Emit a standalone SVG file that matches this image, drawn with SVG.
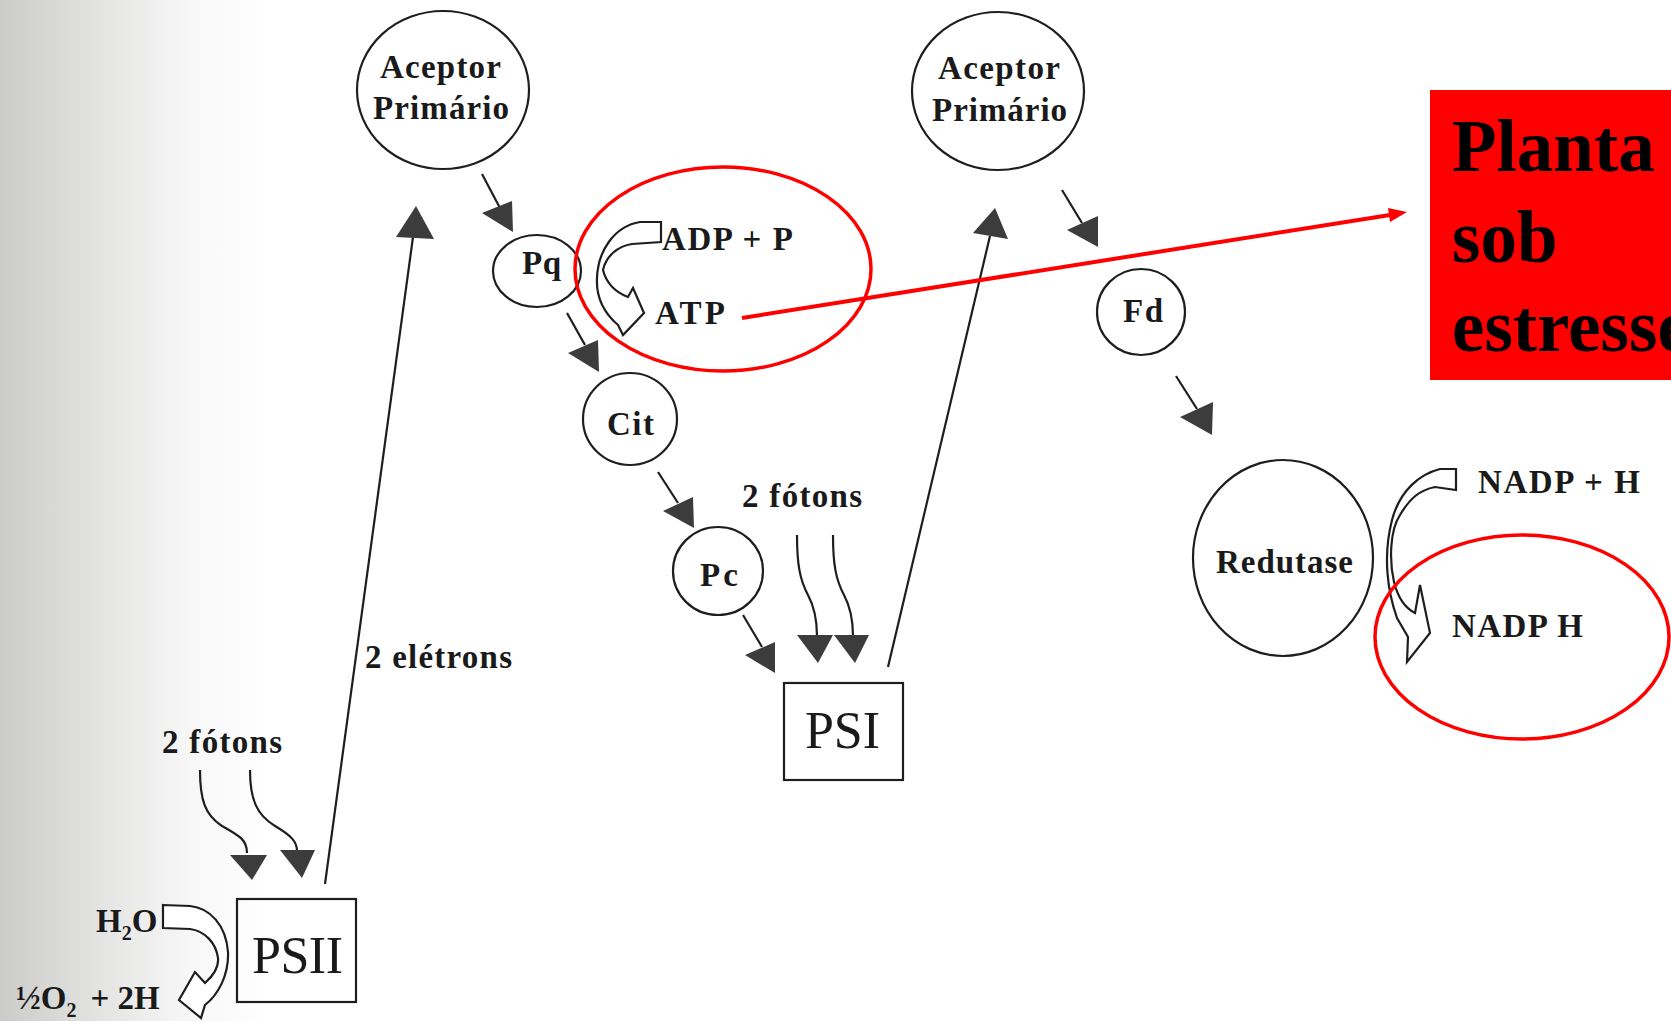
<svg xmlns="http://www.w3.org/2000/svg" width="1671" height="1021" viewBox="0 0 1671 1021">
<defs>
<linearGradient id="shade" x1="0" y1="0" x2="1" y2="0">
<stop offset="0" stop-color="#cbccc9"/>
<stop offset="0.3" stop-color="#dfe0de"/>
<stop offset="0.7" stop-color="#f7f7f7"/>
<stop offset="1" stop-color="#ffffff"/>
</linearGradient>
<style>
.node{fill:none;stroke:#1e1e1e;stroke-width:2.2}
.ln{fill:none;stroke:#1e1e1e;stroke-width:2.2}
.head{fill:#3c3c3c;stroke:none}
.hollow{fill:#ffffff;stroke:#1e1e1e;stroke-width:2.2;stroke-linejoin:miter}
.lbl{font-family:"Liberation Serif","Times New Roman",serif;font-weight:bold;font-size:33px;fill:#1a1a1a}
.ps{font-family:"Liberation Serif","Times New Roman",serif;font-size:52px;fill:#1a1a1a}
.red{fill:none;stroke:#ff0000;stroke-width:3.5}
.big{font-family:"Liberation Serif","Times New Roman",serif;font-weight:bold;font-size:73px;fill:#000000}
</style>
</defs>
<rect x="0" y="0" width="1671" height="1021" fill="#ffffff"/>
<rect x="0" y="0" width="270" height="1021" fill="url(#shade)"/>

<g id="connectors">
<!-- PSII to left Aceptor -->
<line class="ln" x1="325" y1="884" x2="413" y2="237"/>
<polygon class="head" points="416,206 396,237 434,239"/>
<!-- left Aceptor to Pq -->
<line class="ln" x1="482" y1="174" x2="500" y2="208"/>
<polygon class="head" points="482,213 512,201 513,232"/>
<!-- Pq to Cit -->
<line class="ln" x1="567" y1="313" x2="585" y2="345"/>
<polygon class="head" points="568,353 598,340 599,372"/>
<!-- Cit to Pc -->
<line class="ln" x1="658" y1="472" x2="678" y2="503"/>
<polygon class="head" points="663,511 693,497 694,528"/>
<!-- Pc to PSI -->
<line class="ln" x1="743" y1="615" x2="762" y2="647"/>
<polygon class="head" points="745,655 775,642 775,673"/>
<!-- PSI to right Aceptor -->
<line class="ln" x1="888" y1="667" x2="990" y2="236"/>
<polygon class="head" points="995,208 973,233 1008,239"/>
<!-- right Aceptor to Fd -->
<line class="ln" x1="1062" y1="190" x2="1082" y2="223"/>
<polygon class="head" points="1067,230 1098,216 1098,247"/>
<!-- Fd to Redutase -->
<line class="ln" x1="1176" y1="376" x2="1197" y2="409"/>
<polygon class="head" points="1180,417 1213,402 1212,435"/>
<!-- photons PSII -->
<path class="ln" d="M200,770 C200,800 205,815 222,826 C240,836 247,840 247,853"/>
<polygon class="head" points="230,855 267,855 252,880"/>
<path class="ln" d="M250,770 C250,800 257,815 275,826 C292,836 297,842 297,851"/>
<polygon class="head" points="280,850 315,850 302,878"/>
<!-- photons PSI -->
<path class="ln" d="M797,535 C797,565 800,580 808,595 C815,608 817,620 817,636"/>
<polygon class="head" points="797,635 833,635 818,663"/>
<path class="ln" d="M833,535 C833,565 836,580 844,595 C851,608 853,620 853,636"/>
<polygon class="head" points="834,635 869,635 855,663"/>
<!-- hollow reaction arrows -->
<path class="hollow" d="M661,222 L661,242 L632,244 C618,246 606,256 603,270 C606,282 615,292 628,297 L633,288 L644,313 L623,335 L618,325 C603,312 596,296 597,278 C598,250 615,226 640,222 Z"/>
<path class="hollow" d="M1456,469 L1456,490 L1435,487 C1420,490 1410,498 1400,515 C1390,530 1389,560 1394,582 C1398,598 1405,608 1415,613 L1420,585 L1430,633 L1407,662 L1408,637 L1397,618 C1387,590 1383,555 1392,520 C1400,490 1420,474 1440,469 Z"/>
<path class="hollow" d="M163,905 L190,906 C210,908 226,925 228,952 C229,975 218,995 205,1005 L201,1018 L179,1000 L195,972 L205,983 C214,975 219,967 218,958 C216,943 205,931 190,929 L163,928 Z"/>
<!-- red pointer -->
<line x1="742" y1="318" x2="1390" y2="215" stroke="#ff0000" stroke-width="4"/>
<polygon points="1407,212 1390,222 1388,208" fill="#ff0000"/>
</g>

<g id="aceptor-psii">
<ellipse class="node" cx="443" cy="90" rx="86" ry="79"/>
<text class="lbl" x="380" y="78" textLength="121">Aceptor</text>
<text class="lbl" x="373" y="119" textLength="136">Primário</text>
</g>
<g id="pq">
<ellipse class="node" cx="537" cy="271" rx="44" ry="36"/>
<text class="lbl" x="522" y="274" textLength="39">Pq</text>
</g>
<g id="atp">
<text class="lbl" x="662" y="250" textLength="131">ADP + P</text>
<text class="lbl" x="655" y="324" textLength="70">ATP</text>
</g>
<g id="cit">
<ellipse class="node" cx="630" cy="419" rx="47" ry="46"/>
<text class="lbl" x="607" y="435" textLength="47">Cit</text>
</g>
<g id="pc">
<ellipse class="node" cx="718" cy="571" rx="45" ry="44"/>
<text class="lbl" x="700" y="586" textLength="38">Pc</text>
</g>
<g id="psi">
<rect class="node" x="784" y="683" width="119" height="97"/>
<text class="ps" x="805" y="748" textLength="75">PSI</text>
</g>
<g id="fotons-psi">
<text class="lbl" x="742" y="507" textLength="120">2 fótons</text>
</g>
<g id="aceptor-psi">
<ellipse class="node" cx="998" cy="91" rx="86" ry="79"/>
<text class="lbl" x="938" y="79" textLength="122">Aceptor</text>
<text class="lbl" x="932" y="121" textLength="135">Primário</text>
</g>
<g id="fd">
<ellipse class="node" cx="1141" cy="312" rx="44" ry="43"/>
<text class="lbl" x="1123" y="322" textLength="40">Fd</text>
</g>
<g id="redutase">
<ellipse class="node" cx="1283" cy="558" rx="90" ry="98"/>
<text class="lbl" x="1216" y="573" textLength="137">Redutase</text>
</g>
<g id="nadp">
<text class="lbl" x="1478" y="493" textLength="162">NADP + H</text>
<text class="lbl" x="1452" y="637" textLength="131">NADP H</text>
</g>
<g id="psii">
<rect class="node" x="237" y="899" width="119" height="103"/>
<text class="ps" x="252" y="973" textLength="91">PSII</text>
</g>
<g id="fotons-psii">
<text class="lbl" x="162" y="753" textLength="120">2 fótons</text>
</g>
<g id="eletrons">
<text class="lbl" x="365" y="668" textLength="147">2 elétrons</text>
</g>
<g id="agua">
<text class="lbl" x="96" y="932">H<tspan font-size="20" dy="8">2</tspan><tspan dy="-8">O</tspan></text>
<text class="lbl" x="16" y="1009">½O<tspan font-size="20" dy="8">2</tspan><tspan dy="-8" dx="14">+ 2H</tspan></text>
</g>
<g id="highlights">
<ellipse class="red" cx="723" cy="269" rx="148" ry="102"/>
<ellipse class="red" cx="1522" cy="637" rx="147" ry="102"/>
</g>
<g id="planta">
<rect x="1430" y="90" width="241" height="290" fill="#ff0000"/>
<text class="big" x="1452" y="171">Planta</text>
<text class="big" x="1452" y="262">sob</text>
<text class="big" x="1452" y="351">estresse</text>
</g>
</svg>
